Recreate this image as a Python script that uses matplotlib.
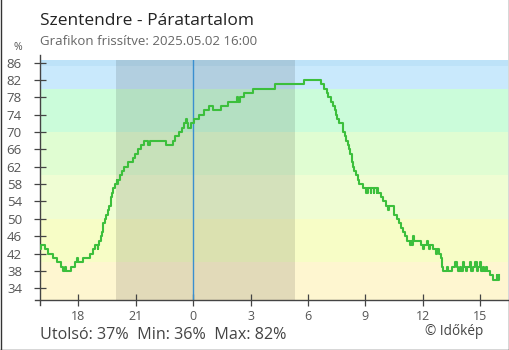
import numpy as np
import matplotlib
matplotlib.use('Agg')
from matplotlib import pyplot as plt
from matplotlib.lines import Line2D

matplotlib.rcParams.update({'font.family': ['Open Sans', 'DejaVu Sans']})

# hours relative to midnight where the reading changes, and the new reading (%)
hours = [-8.00, -7.93, -7.76, -7.59, -7.34, -7.10, -6.89, -6.80, -6.72, -6.65,
         -6.37, -6.19, -6.06, -6.03, -5.76, -5.41, -5.24, -5.11, -4.98, -4.95,
         -4.90, -4.80, -4.75, -4.71, -4.63, -4.54, -4.45, -4.38, -4.31, -4.24,
         -4.17, -4.10, -4.00, -3.97, -3.93, -3.82, -3.72, -3.62, -3.41, -3.15,
         -3.02, -2.88, -2.74, -2.57, -2.36, -2.27, -1.40, -1.05, -0.97, -0.76,
         -0.58, -0.47, -0.36, -0.34, -0.26, -0.09, 0.05, 0.30, 0.58, 0.82,
         1.05, 1.43, 1.83, 2.27, 2.33, 2.44, 2.67, 3.14, 4.30, 5.80,
         6.69, 6.86, 6.97, 7.07, 7.18, 7.32, 7.40, 7.49, 7.53, 7.62,
         7.84, 7.93, 8.01, 8.08, 8.15, 8.22, 8.29, 8.36, 8.43, 8.52,
         8.60, 8.68, 8.85, 9.02, 9.06, 9.10, 9.14, 9.28, 9.30, 9.45,
         9.47, 9.58, 9.62, 9.64, 9.79, 9.93, 10.10, 10.19, 10.25, 10.42,
         10.49, 10.63, 10.77, 10.87, 10.98, 11.08, 11.18, 11.32, 11.38, 11.43,
         11.50, 11.53, 11.93, 12.02, 12.06, 12.20, 12.25, 12.32, 12.37, 12.54,
         12.68, 12.75, 12.82, 12.93, 12.98, 13.06, 13.24, 13.30, 13.55, 13.67,
         13.76, 13.85, 13.94, 14.02, 14.11, 14.17, 14.24, 14.32, 14.46, 14.52,
         14.63, 14.72, 14.81, 14.90, 14.98, 15.06, 15.16, 15.22, 15.28, 15.36,
         15.50, 15.68, 15.85, 15.90, 15.96, 16.00]
humidity = [43, 44, 43, 42, 41, 40, 39, 38, 39, 38,
            39, 40, 41, 40, 41, 42, 43, 44, 43, 44,
            45, 46, 47, 49, 50, 51, 52, 53, 55, 56,
            57, 58, 59, 58, 59, 60, 61, 62, 63, 64,
            65, 66, 67, 68, 67, 68, 67, 68, 69, 70,
            71, 72, 73, 72, 71, 72, 73, 74, 75, 76,
            75, 76, 77, 78, 77, 78, 79, 80, 81, 82,
            81, 80, 79, 78, 77, 76, 75, 74, 73, 72,
            70, 69, 68, 67, 66, 65, 63, 62, 61, 60,
            59, 58, 57, 56, 57, 56, 57, 56, 57, 56,
            57, 56, 57, 56, 55, 54, 53, 52, 53, 53,
            51, 50, 49, 48, 47, 46, 45, 44, 45, 44,
            46, 45, 44, 43, 44, 45, 44, 43, 44, 43,
            42, 43, 42, 41, 39, 38, 39, 38, 39, 40,
            39, 38, 39, 38, 40, 39, 38, 39, 40, 38,
            39, 40, 38, 39, 40, 38, 39, 38, 39, 38,
            37, 36, 37, 36, 37, 37]

xtick_pos = [-6, -3, 0, 3, 6, 9, 12, 15]
xtick_labels = ['18', '21', '0', '3', '6', '9', '12', '15']
ytick_pos = list(range(34, 87, 4))

# background bands: (low, high, colour)
bands = [(20, 40, '#fef6d0'), (40, 50, '#f7fdc6'), (50, 60, '#effdd3'),
         (60, 70, '#e0fdd2'), (70, 80, '#cbfcda'), (80, 85.2, '#c9e9fc'),
         (85.2, 100, '#bde2f8')]
night = (-4.04, 5.31)

fig = plt.figure(figsize=(5.1, 3.5), dpi=100)
ax = fig.add_axes([40/510, 50/350, 468/510, 240/350])

for lo, hi, c in bands:
    ax.axhspan(lo, hi, color=c, lw=0, zorder=0)
ax.axvspan(night[0], night[1], color='black', alpha=0.11, lw=0, zorder=1)
ax.axvline(0, color='#3a8fd0', lw=1, zorder=2)

ax.plot(hours, humidity, drawstyle='steps-post', color='#3cbf3c', lw=1.5, zorder=3)

ax.set_xlim(-8, 16.45)
ax.set_ylim(31.3, 86.6)
ax.set_xticks(xtick_pos, xtick_labels)
ax.set_yticks(ytick_pos)
ax.tick_params(direction='inout', length=8, width=0.9, color='#444444',
               labelcolor='#555555')
ax.tick_params(axis='x', pad=3, labelsize=9)
ax.tick_params(axis='y', pad=9, labelsize=9.5)
ax.get_xticklines()[4].set_color('#3a8fd0')
ax.get_xticklines()[5].set_color('#3a8fd0')

for s in ax.spines.values():
    s.set_visible(False)
ax.add_line(Line2D([0, 0], [-5/240, 1 + 5/240], transform=ax.transAxes,
                   color='#444444', lw=1, clip_on=False))
ax.add_line(Line2D([-5/468, 1], [0, 0], transform=ax.transAxes,
                   color='#444444', lw=1, clip_on=False))

ax.text(-22/468, 1 + 7/240, '%', transform=ax.transAxes, fontsize=7.5,
        color='#555555', ha='center', va='bottom')

fig.text(40/510, 1 - 25/350, 'Szentendre - Páratartalom', fontsize=12.5,
         color='#222222', va='baseline')
fig.text(40/510, 1 - 45/350, 'Grafikon frissítve: 2025.05.02 16:00', fontsize=9.5,
         color='#666666', va='baseline')
fig.text(40/510, 1 - 339/350, 'Utolsó: 37%  Min: 36%  Max: 82%', fontsize=11.6,
         color='#444444', va='baseline')
fig.text(425/510, 1 - 335/350, '© Időkép', fontsize=9.8, color='#444444', va='baseline')

# frame around the image
for xs, ys in [([0.5/510, 0.5/510], [0, 1]), ([509.5/510, 509.5/510], [0, 1]),
               ([0, 1], [0.5/350, 0.5/350])]:
    fig.add_artist(Line2D(xs, ys, transform=fig.transFigure, color='#333333', lw=1))

fig.savefig('out.png', dpi=100)
